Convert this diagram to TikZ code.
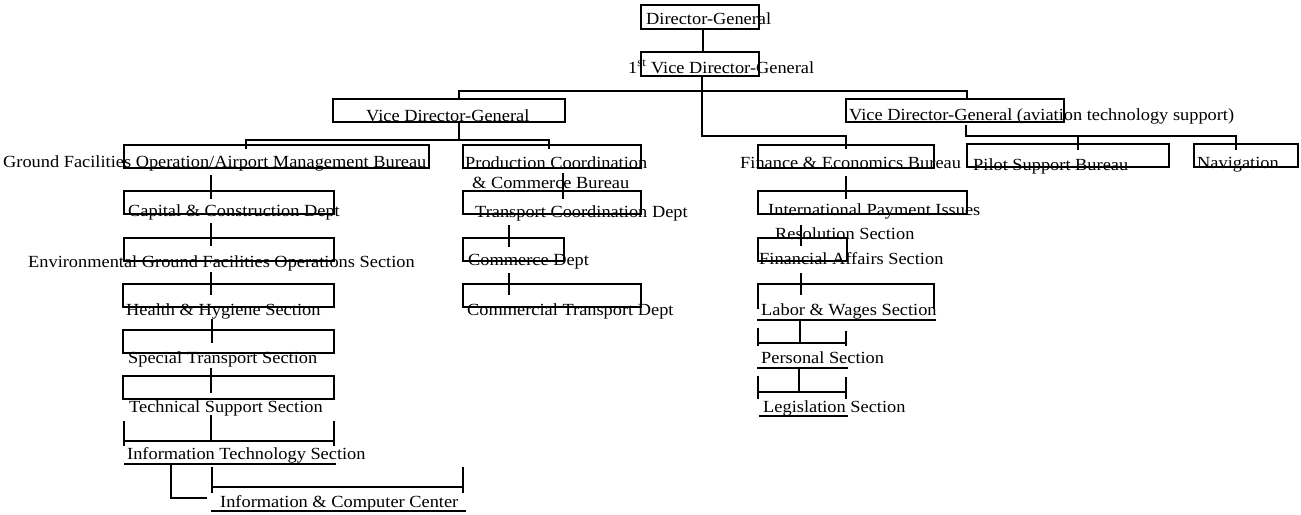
\documentclass[tikz,border=0pt]{standalone}
\usepackage{fontspec}
\setmainfont{Liberation Serif}[FakeStretch=1.08]
\begin{document}
\begin{tikzpicture}[x=1pt,y=-1pt,
  bx/.style={line width=2.8pt,line cap=rect},
  conn/.style={line width=1.3pt},
  lbl/.style={anchor=base west,inner sep=0pt,font=\fontsize{17}{20}\selectfont}]
\useasboundingbox (0,0) rectangle (1301,514);
% ---- boxes ----
\draw[bx] (641,5) rectangle (759,29);
\draw[bx] (641,52) rectangle (759,76);
\draw[bx] (333,99) rectangle (565,122);
\draw[bx] (846,99) rectangle (1064,122);
\draw[bx] (124,145) rectangle (429,168);
\draw[bx] (463,145) rectangle (641,168);
\draw[bx] (758,145) rectangle (934,168);
\draw[bx] (967,144) rectangle (1169,167);
\draw[bx] (1194,144) rectangle (1298,167);
\draw[bx] (124,191) rectangle (334,214);
\draw[bx] (124,238) rectangle (334,261);
\draw[bx] (123,284) rectangle (334,307);
\draw[bx] (123,330) rectangle (334,353);
\draw[bx] (123,376) rectangle (334,399);
\draw[bx] (463,191) rectangle (641,214);
\draw[bx] (463,238) rectangle (564,261);
\draw[bx] (463,284) rectangle (641,307);
\draw[bx] (758,191) rectangle (967,214);
\draw[bx] (758,238) rectangle (847,261);
% partial boxes
\draw[bx] (758,308) -- (758,284) -- (934,284) -- (934,308);
\draw[bx] (758,320) -- (935,320);
\draw[bx] (758,329) -- (758,345);
\draw[bx] (846,332) -- (846,345);
\draw[bx] (758,343) -- (846,343);
\draw[bx] (758,368) -- (847,368);
\draw[bx] (758,377) -- (758,398);
\draw[bx] (846,378) -- (846,398);
\draw[bx] (758,392) -- (846,392);
\draw[bx] (760,416) -- (847,416);
\draw[bx] (124,422) -- (124,445);
\draw[bx] (334,422) -- (334,445);
\draw[bx] (124,441) -- (334,441);
\draw[bx] (125,464) -- (335,464);
\draw[bx] (212,468) -- (212,492);
\draw[bx] (463,468) -- (463,492);
\draw[bx] (212,487) -- (463,487);
\draw[bx] (212,511) -- (465,511);
% ---- connectors ----
\draw[conn] (703,29) -- (703,52);
\draw[conn] (702,76) -- (702,136) -- (846,136) -- (846,149);
\draw[conn] (459,100) -- (459,91) -- (967,91) -- (967,100);
\draw[conn] (459,122) -- (459,140);
\draw[conn] (246,149) -- (246,140) -- (549,140) -- (549,149);
\draw[conn] (966,125) -- (966,136) -- (1236,136) -- (1236,150);
\draw[conn] (1078,136) -- (1078,150);
\draw[conn] (211,175) -- (211,199);
\draw[conn] (211,223) -- (211,246);
\draw[conn] (211,272) -- (211,295);
\draw[conn] (212,319) -- (212,343);
\draw[conn] (211,368) -- (211,393);
\draw[conn] (211,415) -- (211,440);
\draw[conn] (171,464) -- (171,498) -- (207,498);
\draw[conn] (563,173) -- (563,199);
\draw[conn] (509,225) -- (509,247);
\draw[conn] (509,273) -- (509,295);
\draw[conn] (846,176) -- (846,199);
\draw[conn] (801,225) -- (801,246);
\draw[conn] (801,273) -- (801,295);
\draw[conn] (800,320) -- (800,343);
\draw[conn] (799,368) -- (799,391);
% ---- labels ----
\node[lbl] (tdg) at (646,24) {Director-General};
\node[lbl] (tv1) at (628,73) {1\textsuperscript{st} Vice Director-General};
\node[lbl] (tvdg) at (366,121) {Vice Director-General};
\node[lbl] (tavi) at (849,120) {Vice Director-General (aviation technology support)};
\node[lbl] (tgr) at (3,167) {Ground Facilities Operation/Airport Management Bureau};
\node[lbl] (tpr1) at (465,168) {Production Coordination};
\node[lbl] (tpr2) at (472,188) {\& Commerce Bureau};
\node[lbl] (tfin) at (740,168) {Finance \& Economics Bureau};
\node[lbl] (tpil) at (973,170) {Pilot Support Bureau};
\node[lbl] (tnav) at (1197,168) {Navigation};
\node[lbl] (tcap) at (128,216) {Capital \& Construction Dept};
\node[lbl] (tenv) at (28,267) {Environmental Ground Facilities Operations Section};
\node[lbl] (thea) at (126,315) {Health \& Hygiene Section};
\node[lbl] (tspe) at (128,363) {Special Transport Section};
\node[lbl] (ttec) at (129,412) {Technical Support Section};
\node[lbl] (tit) at (127,459) {Information Technology Section};
\node[lbl] (ticc) at (220,507) {Information \& Computer Center};
\node[lbl] (ttra) at (475,217) {Transport Coordination Dept};
\node[lbl] (tcom) at (468,265) {Commerce Dept};
\node[lbl] (tctr) at (467,315) {Commercial Transport Dept};
\node[lbl] (tint1) at (768,215) {International Payment Issues};
\node[lbl] (tint2) at (775,239) {Resolution Section};
\node[lbl] (tfa) at (759,264) {Financial Affairs Section};
\node[lbl] (tlab) at (761,315) {Labor \& Wages Section};
\node[lbl] (tper) at (761,363) {Personal Section};
\node[lbl] (tleg) at (763,412) {Legislation Section};
\end{tikzpicture}
\end{document}
